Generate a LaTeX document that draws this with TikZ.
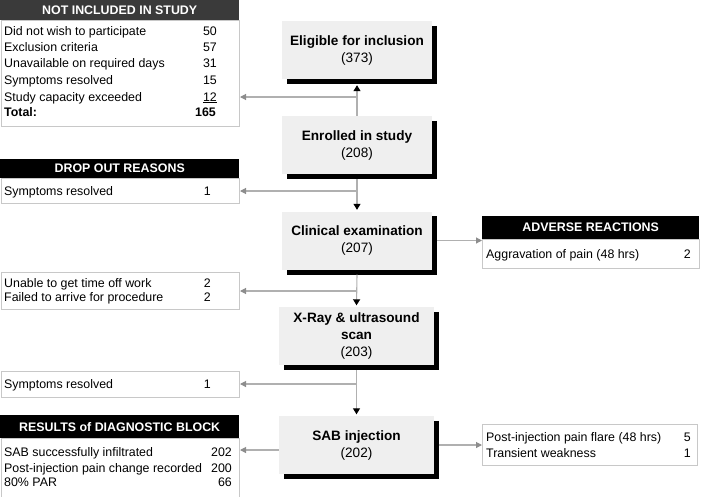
\documentclass[tikz,border=0pt]{standalone}
\usepackage{fontspec}
\setmainfont{Liberation Sans}
\usetikzlibrary{arrows.meta,calc}
\definecolor{boxgray}{HTML}{EFEFEF}
\definecolor{lineg}{HTML}{B0B0B0}
\definecolor{bordg}{HTML}{C8C8C8}
\definecolor{hdrdark}{HTML}{3A3A3A}
\begin{document}
\begin{tikzpicture}[x=1pt,y=-1pt,
  mainbox/.style={fill=boxgray, minimum width=150pt, minimum height=58pt, align=center, inner sep=0pt,
    font=\fontsize{13.6}{17}\selectfont},
  shadowline/.style={draw=black, line width=5pt, line join=miter, line cap=butt},
  hdr/.style={anchor=north west, inner sep=0pt, text=white, fill=black, minimum width=239pt,
    font=\bfseries\fontsize{12.4}{14}\selectfont},
  body/.style={anchor=north west, inner sep=0pt, draw=bordg, line width=1pt, fill=white},
  lab/.style={anchor=base west, inner sep=0pt, font=\fontsize{12.4}{14}\selectfont},
  num/.style={anchor=base east, inner sep=0pt, font=\fontsize{12.4}{14}\selectfont},
  sidearr/.style={draw=lineg, line width=1.1pt, -{Triangle[length=6pt,width=6pt,color=lineg!80!black]}},
  downarr/.style={draw=lineg, line width=1.1pt, -{Triangle[length=6pt,width=7pt,color=black]}},
]
\useasboundingbox (0,0) rectangle (701,496);

% main flow boxes
\node[mainbox] (elig) at (357,50) {\textbf{Eligible for inclusion}\\(373)};
\node[mainbox] (enr) at (357,145) {\textbf{Enrolled in study}\\(208)};
\node[mainbox] (clin) at (357,240.5) {\textbf{Clinical examination}\\(207)};
\node[mainbox, minimum width=155pt] (xray) at (356.5,336) {\textbf{X-Ray \& ultrasound}\\\textbf{scan}\\(203)};
\node[mainbox, minimum width=155pt] (sab) at (356.5,445) {\textbf{SAB injection}\\(202)};

% black shadows (right and bottom edges)
\foreach \bx in {elig,enr,clin,xray,sab}{
  \draw[shadowline] ($(\bx.north east)+(2.5,5)$) -- ($(\bx.south east)+(2.5,2.5)$) -- ($(\bx.south west)+(5,2.5)$);
}

% NOT INCLUDED IN STUDY
\node[hdr, fill=hdrdark, minimum height=20pt] (h1) at (0,0) {NOT INCLUDED IN STUDY};
\node[body, minimum width=238.5pt, minimum height=106pt] (b1) at (0.5,20) {};
\node[lab] (l11) at (4,35.5) {Did not wish to participate};
\node[num] (n11) at (217,35.5) {50};
\node[lab] (l12) at (4,51.5) {Exclusion criteria};
\node[num] (n12) at (217,51.5) {57};
\node[lab] (l13) at (4,67.5) {Unavailable on required days};
\node[num] (n13) at (217,67.5) {31};
\node[lab] (l14) at (4,84.5) {Symptoms resolved};
\node[num] (n14) at (217,84.5) {15};
\node[lab] (l15) at (4,101) {Study capacity exceeded};
\node[num] (n15) at (217,101) {\underline{12}};
\node[lab] (l16) at (4,116.5) {\textbf{Total:}};
\node[num] (n16) at (216,116.5) {\textbf{165}};

% DROP OUT REASONS
\node[hdr, minimum height=19pt] (h2) at (0,159) {DROP OUT REASONS};
\node[body, minimum width=238.5pt, minimum height=25pt] (b2) at (0.5,178) {};
\node[lab] (l21) at (4,195.5) {Symptoms resolved};
\node[num] (n21) at (211,195.5) {1};

% ADVERSE REACTIONS
\node[hdr, minimum width=217pt, minimum height=23pt] (h3) at (482,216) {ADVERSE REACTIONS};
\node[body, minimum width=217pt, minimum height=29pt] (b3) at (482,239) {};
\node[lab] (l31) at (486,258.5) {Aggravation of pain (48 hrs)};
\node[num] (n31) at (691,258.5) {2};

% time off work
\node[body, minimum width=238.5pt, minimum height=37pt] (b4) at (0.5,272) {};
\node[lab] (l41) at (4,287.5) {Unable to get time off work};
\node[num] (n41) at (211,287.5) {2};
\node[lab] (l42) at (4,301.5) {Failed to arrive for procedure};
\node[num] (n42) at (211,301.5) {2};

% symptoms resolved 2
\node[body, minimum width=238.5pt, minimum height=26pt] (b5) at (0.5,371) {};
\node[lab] (l51) at (4,388.5) {Symptoms resolved};
\node[num] (n51) at (211,388.5) {1};

% RESULTS of DIAGNOSTIC BLOCK
\node[hdr, minimum height=23pt] (h6) at (0,415) {RESULTS of DIAGNOSTIC BLOCK};
\node[body, minimum width=238.5pt, minimum height=60pt] (b6) at (0.5,438) {};
\node[lab] (l61) at (4,456.5) {SAB successfully infiltrated};
\node[num] (n61) at (232,456.5) {202};
\node[lab] (l62) at (4,472.5) {Post-injection pain change recorded};
\node[num] (n62) at (232,472.5) {200};
\node[lab] (l63) at (4,486.5) {80\% PAR};
\node[num] (n63) at (232,486.5) {66};

% SAB side effects
\node[body, minimum width=215pt, minimum height=41pt] (b7) at (482,424) {};
\node[lab] (l71) at (486,441.5) {Post-injection pain flare (48 hrs)};
\node[num] (n71) at (691,441.5) {5};
\node[lab] (l72) at (486,457.5) {Transient weakness};
\node[num] (n72) at (691,457.5) {1};

% junction coordinates
\coordinate (j1) at (357,97);  \coordinate (t1) at (240,97);
\coordinate (j2) at (357,191); \coordinate (t2) at (240,191);
\coordinate (j3) at (357,291); \coordinate (t3) at (240,291);
\coordinate (j4) at (357,384); \coordinate (t4) at (240,384);
\coordinate (t5) at (240,450);
\coordinate (t6) at (482,240.5);
\coordinate (t7) at (482,445);

% vertical connectors
\draw[downarr] (enr.north) -- ($(elig.south)+(0,6)$);
\draw[downarr] ($(enr.south)+(0,5)$) -- ($(clin.north)+(0,-1.5)$);
\draw[downarr] ($(clin.south)+(0,5)$) -- ($(xray.north)+(0,-1.5)$);
\draw[downarr] ($(xray.south)+(0,5)$) -- ($(sab.north)+(0,-1.5)$);

% side connectors
\draw[sidearr] (j1) -- (t1);
\draw[sidearr] (j2) -- (t2);
\draw[sidearr] (j3) -- (t3);
\draw[sidearr] (j4) -- (t4);
\draw[sidearr] (sab.west |- t5) -- (t5);
\draw[sidearr] ($(clin.east |- t6)+(5,0)$) -- (t6);
\draw[sidearr] ($(sab.east |- t7)+(5,0)$) -- (t7);
\end{tikzpicture}
\end{document}
